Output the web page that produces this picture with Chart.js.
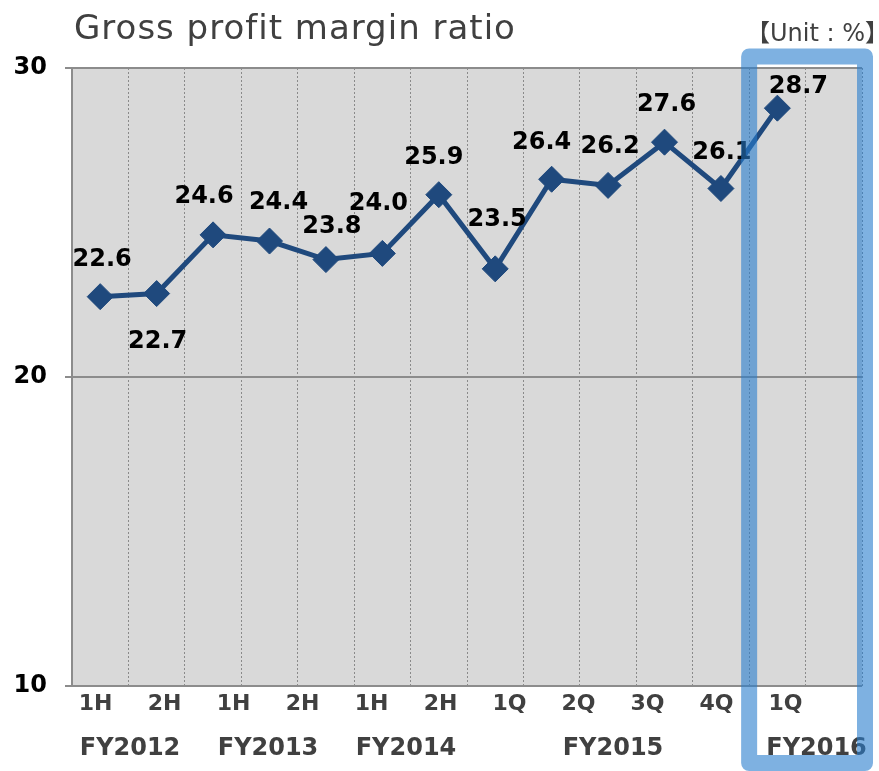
<!DOCTYPE html>
<html>
<head>
<meta charset="utf-8">
<script src="https://cdn.jsdelivr.net/npm/chart.js@4"></script>
<style>
    html, body { margin: 0; padding: 0; background: #ffffff; }
    #wrap { width: 879px; height: 771px; }
</style>
</head>
<body>
<div id="wrap"><canvas id="margin-chart"></canvas></div>
<script>
// one slot per plotted point, plus an empty slot on the right
const pointSlots = ['FY12 1H', 'FY12 2H', 'FY13 1H', 'FY13 2H', 'FY14 1H', 'FY14 2H',
    'FY15 1Q', 'FY15 2Q', 'FY15 3Q', 'FY15 4Q', 'FY16 1Q', '', '', ''];
const marginValues = [22.6, 22.7, 24.6, 24.4, 23.8, 24.0, 25.9, 23.5, 26.4, 26.2, 27.6, 26.1, 28.7];
const periodLabels = ['1H', '2H', '1H', '2H', '1H', '2H', '1Q', '2Q', '3Q', '4Q', '1Q'];
const fiscalYears = ['FY2012', 'FY2013', 'FY2014', 'FY2015', 'FY2016'];
const yTicks = [10, 20, 30];

// where each fiscal year label sits on the period axis
const fiscalYearAt = [0.5, 2.5, 4.5, 7.5, 10.45];
// value label offsets from their markers (px)
const labelDx = [2, 1, -9, 9, 6, -4, -5, 2, -10, 2, 2, 1, 21];
const labelDy = [-40, 45, -41, -41, -36, -52, -40, -52, -39, -41, -40, -39, -24];

const marginChart = document.getElementById('margin-chart');
const fontFamily = '"DejaVu Sans", "Noto Sans CJK JP", sans-serif';

const plotBackground = {
    id: 'plotBackground',
    beforeDraw(chart) {
        const {ctx, chartArea} = chart;
        ctx.save();
        ctx.fillStyle = '#d9d9d9';
        ctx.fillRect(chartArea.left, chartArea.top, chartArea.right - chartArea.left, chartArea.bottom - chartArea.top);
        ctx.restore();
    }
};

const valueLabels = {
    id: 'valueLabels',
    afterDatasetsDraw(chart) {
        const ctx = chart.ctx;
        const meta = chart.getDatasetMeta(0);
        ctx.save();
        ctx.font = 'bold 24px ' + fontFamily;
        ctx.fillStyle = '#000000';
        ctx.textAlign = 'center';
        ctx.textBaseline = 'alphabetic';
        meta.data.forEach((pt, i) => {
            ctx.fillText(marginValues[i].toFixed(1), pt.x + labelDx[i], pt.y + labelDy[i] + 9);
        });
        ctx.restore();
    }
};

const headings = {
    id: 'headings',
    afterDraw(chart) {
        const {ctx, chartArea, scales} = chart;
        ctx.save();
        ctx.fillStyle = '#404040';
        ctx.font = '34px ' + fontFamily;
        ctx.letterSpacing = '1px';
        ctx.textAlign = 'left';
        ctx.textBaseline = 'alphabetic';
        ctx.fillText('Gross profit margin ratio', 74, 39);
        ctx.letterSpacing = '0px';
        ctx.font = '24px ' + fontFamily;
        ctx.textAlign = 'right';
        ctx.fillText('【Unit : %】', 889, 41);

        // highlight frame around the latest quarter
        const half = (scales.x.getPixelForValue(1) - scales.x.getPixelForValue(0)) / 2;
        const left = scales.x.getPixelForValue(marginValues.length - 1) - half;
        const right = chartArea.right + 3;
        const top = chartArea.top - 11.5;
        const bottom = chart.height - 8;
        ctx.strokeStyle = 'rgba(40, 125, 205, 0.6)';
        ctx.lineWidth = 16;
        ctx.lineJoin = 'round';
        ctx.strokeRect(left, top, right - left, bottom - top);
        ctx.restore();
    }
};

new Chart(marginChart, {
    type: 'line',
    data: {
        labels: pointSlots,
        datasets: [{
            label: 'Gross profit margin ratio',
            data: marginValues,
            borderColor: '#1f497d',
            backgroundColor: '#1f497d',
            borderWidth: 5,
            pointStyle: 'rectRot',
            pointRadius: 13,
            pointBorderWidth: 1,
            pointBackgroundColor: '#1f497d',
            pointBorderColor: '#1f497d',
            tension: 0
        }]
    },
    options: {
        responsive: true,
        maintainAspectRatio: false,
        animation: false,
        layout: {
            padding: {top: 68, right: 17, bottom: 0, left: 0}
        },
        plugins: {
            legend: {display: false},
            tooltip: {enabled: false}
        },
        scales: {
            x: {
                type: 'category',
                offset: true,
                weight: 0,
                ticks: {display: false},
                grid: {
                    color: '#8a8a8a',
                    lineWidth: 1,
                    offset: true,
                    drawTicks: false
                },
                border: {display: false, dash: [2, 2]},
                afterFit: (scale) => { scale.height = 0; }
            },
            x2: {
                type: 'linear',
                position: 'bottom',
                weight: 1,
                min: -0.341,
                max: 11.109,
                afterBuildTicks: (scale) => {
                    scale.ticks = periodLabels.map((p, i) => ({value: i}));
                },
                ticks: {
                    autoSkip: false,
                    maxRotation: 0,
                    padding: -3,
                    color: '#404040',
                    font: {family: fontFamily, size: 22, weight: 'bold'},
                    callback: (value) => periodLabels[value]
                },
                grid: {display: false},
                border: {display: false},
                afterFit: (scale) => { scale.height = 36; }
            },
            x3: {
                type: 'linear',
                position: 'bottom',
                weight: 2,
                min: -0.341,
                max: 11.109,
                afterBuildTicks: (scale) => {
                    scale.ticks = fiscalYearAt.map((v) => ({value: v}));
                },
                ticks: {
                    autoSkip: false,
                    maxRotation: 0,
                    padding: 4,
                    color: '#404040',
                    font: {family: fontFamily, size: 24, weight: 'bold'},
                    callback: (value) => fiscalYears[fiscalYearAt.indexOf(value)]
                },
                grid: {display: false},
                border: {display: false},
                afterFit: (scale) => { scale.height = 49; }
            },
            y: {
                min: 10,
                max: 30,
                afterBuildTicks: (scale) => {
                    scale.ticks = yTicks.map((v) => ({value: v}));
                },
                ticks: {
                    padding: 18,
                    color: '#000000',
                    font: {family: fontFamily, size: 24, weight: 'bold'}
                },
                grid: {
                    color: '#8c8c8c',
                    lineWidth: 2,
                    tickLength: 7
                },
                border: {display: true, color: '#8c8c8c', width: 2},
                afterFit: (scale) => { scale.width = 72; }
            }
        }
    },
    plugins: [plotBackground, valueLabels, headings]
});
</script>
</body>
</html>
